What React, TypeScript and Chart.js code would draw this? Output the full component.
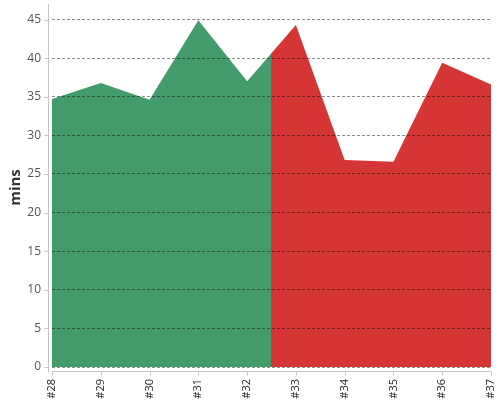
import React, { useEffect, useRef } from "react";
import { Chart, registerables } from "chart.js";

Chart.register(...registerables);

const categories = ["#28", "#29", "#30", "#31", "#32", "#33", "#34", "#35", "#36", "#37"];
const minsValues = [34.7, 36.8, 34.6, 44.9, 37.0, 44.3, 26.8, 26.6, 39.4, 36.6];
const yTicks = [0, 5, 10, 15, 20, 25, 30, 35, 40, 45];
const splitAfterIndex = 4.5;
const greenColor = "rgb(68,156,108)";
const redColor = "rgb(214,53,54)";
const axisColor = "#c4c4c4";

const axesPlugin = {
  id: "offsetAxes",
  afterDraw(chart: any) {
    const { ctx, chartArea, scales } = chart;
    const xs = scales.x;
    const ys = scales.y;
    ctx.save();
    ctx.strokeStyle = axisColor;
    ctx.lineWidth = 1;
    const ax = Math.round(chartArea.left - 4) + 0.5;
    const ay = Math.round(chartArea.bottom + 4) + 0.5;
    ctx.beginPath();
    ctx.moveTo(ax, chartArea.top - 4);
    ctx.lineTo(ax, ay + 0.5);
    for (const t of ys.ticks) {
      const py = Math.round(ys.getPixelForValue(t.value)) + 0.5;
      ctx.moveTo(ax - 4, py);
      ctx.lineTo(ax, py);
    }
    ctx.moveTo(chartArea.left, ay);
    ctx.lineTo(chartArea.right, ay);
    xs.ticks.forEach((_t: any, i: number) => {
      const px = Math.round(xs.getPixelForValue(i)) + 0.5;
      ctx.moveTo(px, ay);
      ctx.lineTo(px, ay + 4);
    });
    ctx.stroke();
    ctx.restore();
  },
};

export default function App() {
  const ref = useRef<HTMLCanvasElement>(null);
  useEffect(() => {
    document.body.style.margin = "0";
    const canvas = ref.current!;
    const chart = new Chart(canvas, {
      type: "line",
      data: {
        labels: categories,
        datasets: [
          {
            data: minsValues,
            fill: "origin",
            borderWidth: 0,
            pointRadius: 0,
            tension: 0,
            backgroundColor: (c: any) => {
              const ch = c.chart;
              const area = ch.chartArea;
              if (!area) return greenColor;
              const xs = ch.scales.x;
              const sx = xs.getPixelForValue(splitAfterIndex);
              const g = ch.ctx.createLinearGradient(area.left, 0, area.right, 0);
              const f = Math.min(1, Math.max(0, (sx - area.left) / (area.right - area.left)));
              g.addColorStop(0, greenColor);
              g.addColorStop(f, greenColor);
              g.addColorStop(f, redColor);
              g.addColorStop(1, redColor);
              return g;
            },
          },
        ],
      },
      options: {
        animation: false,
        responsive: false,
        maintainAspectRatio: false,
        layout: { padding: { top: 8, right: 9, bottom: 0, left: 0 } },
        plugins: { legend: { display: false }, tooltip: { enabled: false } },
        scales: {
          x: {
            grid: { display: false, drawTicks: false },
            border: { display: false },
            afterFit: (s: any) => {
              s.height = 33;
              s.paddingLeft = 0;
              s.paddingRight = 0;
            },
            ticks: {
              minRotation: 90,
              maxRotation: 90,
              padding: 12,
              color: "#222",
              font: { family: "Open Sans", size: 11 },
            },
          },
          y: {
            min: 0,
            max: 46.5,
            afterBuildTicks: (s: any) => {
              s.ticks = yTicks.map((v) => ({ value: v }));
            },
            afterFit: (s: any) => {
              s.width = 52;
              s.paddingTop = 0;
              s.paddingBottom = 0;
            },
            border: { display: false, dash: [3, 2] },
            grid: {
              z: 1,
              drawTicks: false,
              color: "rgba(0,0,0,0.45)",
              lineWidth: 1,
            },
            ticks: {
              padding: 11,
              color: "#555",
              font: { family: "Open Sans", size: 12 },
            },
            title: {
              display: true,
              text: "mins",
              color: "#333",
              font: { family: "Open Sans", size: 15, weight: "bold" },
              padding: { top: 7, bottom: 4 },
            },
          } as any,
        },
      },
      plugins: [axesPlugin],
    } as any);
    return () => chart.destroy();
  }, []);
  return (
    <div style={{ width: 500, height: 400 }}>
      <canvas ref={ref} width={500} height={400} style={{ display: "block" }} />
    </div>
  );
}
